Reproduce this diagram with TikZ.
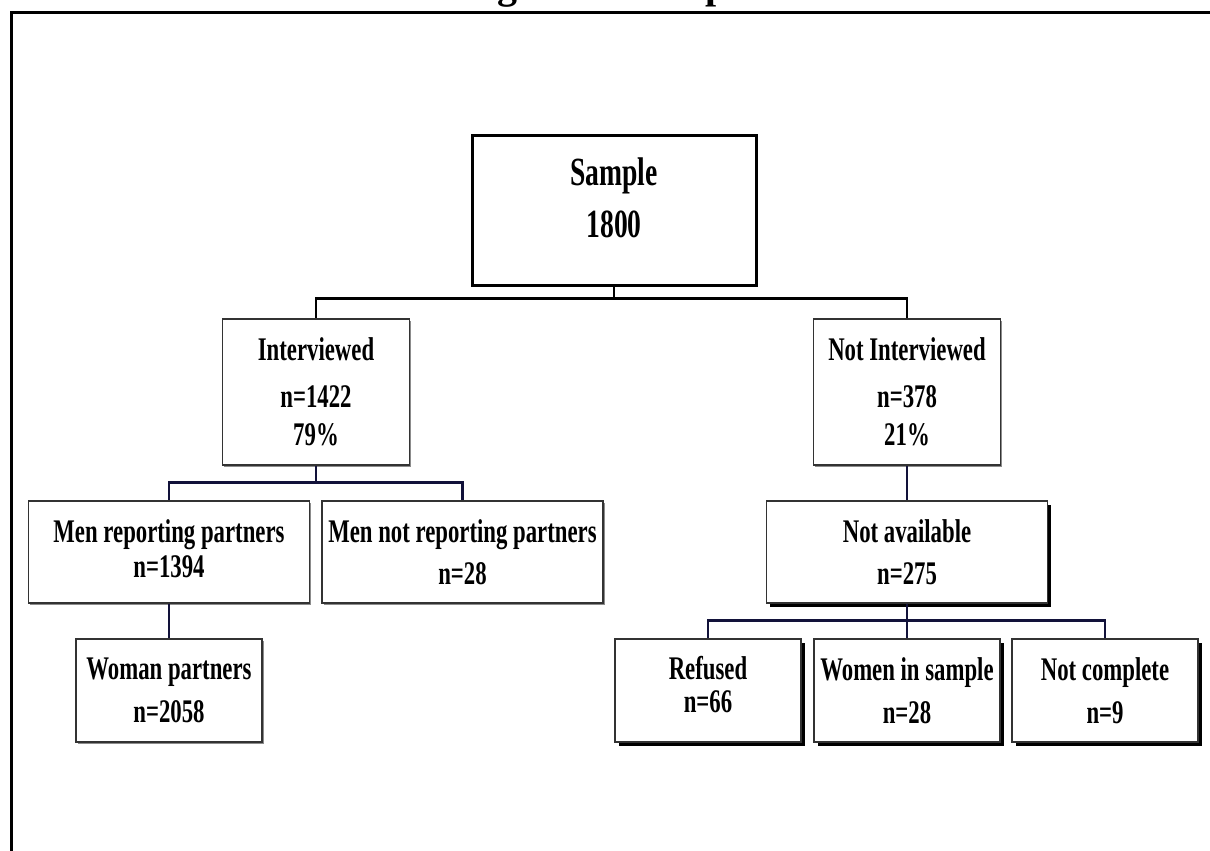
\documentclass[tikz,border=0pt]{standalone}
\usepackage{fontspec}
\setmainfont{Liberation Serif}[FakeStretch=0.69]
\newfontfamily\titlefont{Liberation Serif}
\usepackage{xcolor}
\usepackage{tikz}
\usetikzlibrary{calc,positioning,shadows}
\definecolor{navy}{HTML}{12123A}
\newcommand{\lift}[1]{\rule[-#1]{0pt}{#1}}
\tikzset{
  box/.style={draw=black!80, fill=white, line width=1.2pt, inner sep=0pt,
  align=center, font=\bfseries\fontsize{33}{42.5}\selectfont},
  plain/.style={box, drop shadow={shadow xshift=1.5pt, shadow yshift=-1.5pt,
  fill=black!45, opacity=1}},
  dark/.style={box, drop shadow={shadow xshift=3.5pt, shadow yshift=-3.5pt,
  fill=black, opacity=1}},
  topbox/.style={draw=black, fill=white, line width=3pt, inner sep=0pt,
  align=center, font=\bfseries\fontsize{40}{52}\selectfont},
  frag/.style={inner sep=0pt, font=\titlefont\bfseries\fontsize{40}{48}\selectfont},
  trunk/.style={draw=black, line width=2.5pt},
  branch/.style={draw=navy, line width=2.8pt}
}

\begin{document}
\begin{tikzpicture}[x=1pt, y=-1pt]
\useasboundingbox (0,0) rectangle (1210,851);
\begin{scope}
	\clip (0,0) rectangle (1210,851);
	\draw[line width=3pt] (11,900) -- (11,12.5) -- (1260,12.5);
	\node[frag, anchor=base west] (titleg) at (497,-1.5) {g};
	\node[frag, anchor=base west] (titlep) at (705,-1.5) {p};
\end{scope}

\node[topbox, minimum width=284pt, minimum height=150pt] (sample) at (614,210)
	{Sample\\1800\lift{25pt}};
\node[plain, minimum width=187pt, minimum height=146pt] (intv) at (316,392)
	{Interviewed\\[4pt]n=1422\\[-4pt]79\%};
\node[plain, minimum width=187pt, minimum height=146pt] (notintv) at (907,392)
	{Not Interviewed\\[4pt]n=378\\[-4pt]21\%};

\node[plain, minimum width=281pt, minimum height=102pt] (menrep) at (169,552)
	{Men reporting partners\\[-7.5pt]n=1394\lift{7pt}};
\node[plain, minimum width=281pt, minimum height=102pt] (mennot) at (462.5,552)
	{Men not reporting partners\\n=28};
\node[plain, minimum width=186pt, minimum height=103pt] (woman) at (169,690.5)
	{Woman partners\\n=2058};

\node[dark, minimum width=281pt, minimum height=102pt] (notavail) at (907,552)
	{Not available\\n=275};
\node[dark, minimum width=186pt, minimum height=103pt] (refused) at (708,690.5)
	{Refused\\[-10pt]n=66\lift{12pt}};
\node[dark, minimum width=186pt, minimum height=103pt] (womsample) at (907,690.5)
	{Women in sample\\n=28};
\node[dark, minimum width=186pt, minimum height=103pt] (notcomp) at (1105,690.5)
	{Not complete\\n=9};

\draw[trunk] (sample.south) -- ++(0,12) -| (intv.north);
\draw[trunk] (sample.south) -- ++(0,12) -| (notintv.north);
\draw[branch] (intv.south) -- ++(0,17) -| (menrep.north);
\draw[branch] (intv.south) -- ++(0,17) -| (mennot.north);
\draw[branch] (menrep.south) -- (woman.north);
\draw[branch] (notintv.south) -- (notavail.north);
\draw[branch] (notavail.south) -- ++(0,17) -| (refused.north);
\draw[branch] (notavail.south) -- ++(0,17) -| (notcomp.north);
\draw[branch] (notavail.south) -- (womsample.north);
\end{tikzpicture}
\end{document}
